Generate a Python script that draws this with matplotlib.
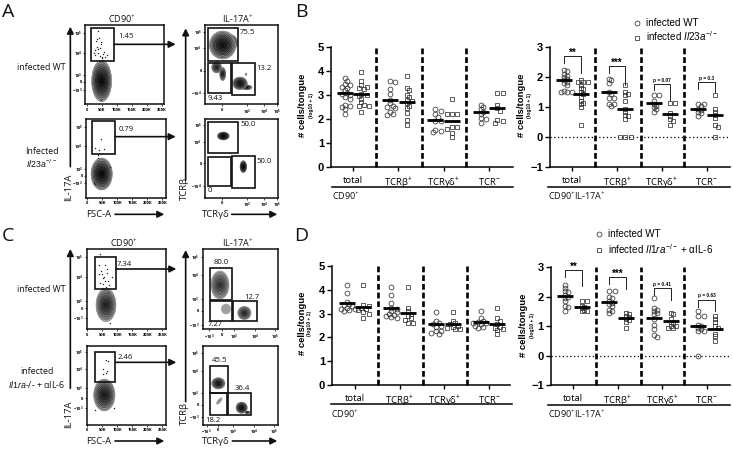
import matplotlib
matplotlib.use('Agg')
import matplotlib.pyplot as plt
from matplotlib.patches import Ellipse, Rectangle
from matplotlib.lines import Line2D

plt.rcParams['font.family'] = ['Open Sans', 'DejaVu Sans']
plt.rcParams['mathtext.fontset'] = 'custom'
plt.rcParams['mathtext.rm'] = 'Liberation Sans'
plt.rcParams['mathtext.it'] = 'Liberation Sans:italic'
plt.rcParams['mathtext.bf'] = 'Liberation Sans:bold'
plt.rcParams['mathtext.default'] = 'regular'

groups = ['total', 'TCRβ$^{+}$', 'TCRγδ$^{+}$', 'TCR$^{-}$']

# scatter data, wt / ko per group
b1_wt = [[3.7, 3.6, 3.45, 3.4, 3.35, 3.3, 3.2, 3.1, 3.05, 3.0, 2.9, 2.85, 2.6, 2.55, 2.5, 2.4, 2.2],
         [3.6, 3.55, 3.25, 3.05, 2.8, 2.65, 2.55, 2.5, 2.45, 2.3, 2.2, 2.15],
         [2.4, 2.35, 2.2, 2.1, 1.9, 1.9, 1.55, 1.5, 1.45],
         [2.6, 2.5, 2.4, 2.3, 2.2, 2.05, 2.0, 1.85]]
b1_ko = [[3.95, 3.6, 3.4, 3.35, 3.3, 3.25, 3.05, 3.0, 2.95, 2.85, 2.7, 2.6, 2.55, 2.55, 2.3],
         [3.8, 3.3, 3.2, 3.0, 2.9, 2.8, 2.75, 2.65, 2.55, 2.45, 2.25, 1.95, 1.75],
         [2.85, 2.2, 2.2, 2.2, 1.65, 1.65, 1.6, 1.4, 1.25],
         [3.1, 3.1, 2.6, 2.45, 2.35, 1.95, 1.9, 1.85]]
b1_wt_mean = [3.1, 2.8, 1.95, 2.28]
b1_ko_mean = [3.03, 2.72, 1.92, 2.45]

b2_wt = [[2.25, 2.2, 2.1, 2.05, 2.0, 1.95, 1.9, 1.85, 1.8, 1.75, 1.55, 1.5, 1.5, 1.5],
         [1.95, 1.9, 1.8, 1.5, 1.45, 1.3, 1.3, 1.1, 1.1, 1.05],
         [1.4, 1.4, 1.2, 1.1, 1.05, 1.0, 0.95, 0.85],
         [1.1, 1.1, 1.05, 0.95, 0.9, 0.85, 0.8, 0.7]]
b2_ko = [[1.9, 1.85, 1.85, 1.85, 1.75, 1.65, 1.6, 1.5, 1.45, 1.35, 1.2, 1.15, 1.1, 1.0, 0.4],
         [1.75, 1.5, 1.45, 1.4, 1.2, 0.95, 0.85, 0.75, 0.7, 0.6, 0, 0, 0],
         [1.15, 1.15, 0.8, 0.7, 0.6, 0.55, 0.4],
         [1.4, 0.95, 0.85, 0.75, 0.65, 0.4, 0.35, 0]]
b2_wt_mean = [1.9, 1.5, 1.12, 0.93]
b2_ko_mean = [1.45, 0.93, 0.78, 0.74]

d1_wt = [[4.2, 3.85, 3.5, 3.4, 3.35, 3.3, 3.25, 3.2, 3.2, 3.15, 3.1],
         [4.1, 3.8, 3.45, 3.25, 3.2, 3.1, 3.05, 3.0, 2.95, 2.9, 2.85, 2.8],
         [3.05, 2.7, 2.6, 2.55, 2.5, 2.45, 2.25, 2.25, 2.2, 2.15],
         [3.1, 2.8, 2.7, 2.65, 2.6, 2.6, 2.55, 2.5, 2.45, 2.4]]
d1_ko = [[4.2, 3.35, 3.3, 3.25, 3.2, 3.15, 3.05, 3.0, 2.8],
         [4.1, 3.25, 3.1, 3.0, 2.9, 2.8, 2.75, 2.6, 2.6],
         [3.05, 2.7, 2.6, 2.55, 2.5, 2.45, 2.4, 2.35, 2.35],
         [3.25, 2.8, 2.7, 2.55, 2.45, 2.4, 2.35, 2.3, 2.15]]
d1_wt_mean = [3.43, 3.25, 2.55, 2.65]
d1_ko_mean = [3.28, 3.03, 2.58, 2.55]

d2_wt = [[2.4, 2.3, 2.2, 2.15, 2.05, 2.0, 1.95, 1.85, 1.7, 1.65, 1.5],
         [2.2, 2.2, 2.0, 1.95, 1.85, 1.8, 1.75, 1.7, 1.55, 1.5, 1.45],
         [1.95, 1.6, 1.55, 1.5, 1.45, 1.4, 1.25, 1.05, 0.9, 0.7, 0.62],
         [1.5, 1.35, 1.35, 1.05, 1.0, 0.95, 0.9, 0.85, 0.85, 0]]
d2_ko = [[1.85, 1.85, 1.7, 1.65, 1.6, 1.55, 1.5, 1.5],
         [1.45, 1.4, 1.35, 1.3, 1.25, 1.2, 1.15, 0.95],
         [1.45, 1.4, 1.25, 1.15, 1.1, 1.0, 1.0, 0.95, 0.95],
         [1.35, 1.25, 1.15, 1.0, 0.95, 0.75, 0.65, 0.5]]
d2_wt_mean = [2.02, 1.82, 1.28, 1.02]
d2_ko_mean = [1.66, 1.27, 1.16, 0.92]

# brackets: group, top, left leg end, right leg end, text
b2_brackets = [(0, 2.7, 2.48, 2.12, '**'), (1, 2.37, 2.12, 1.73, '***'),
               (2, 1.77, 1.57, 1.23, 'p = 0.07'), (3, 1.82, 1.59, 1.5, 'p = 0.3')]
d2_brackets = [(0, 2.92, 2.67, 2.35, '**'), (1, 2.67, 2.42, 2.27, '***'),
               (2, 2.3, 2.05, 1.9, 'p = 0.41'), (3, 1.9, 1.65, 1.53, 'p = 0.63')]

# flow plots, everything below in 3x pixel units of the picture
fsc_labels = ['0', '50K', '100K', '150K', '200K', '250K']
y_exp = ['$10^5$', '$10^4$', '$10^3$', '0', '$-10^3$']
tcr_labels = ['0', '$10^3$', '$10^4$', '$10^5$']
tcr_labels_neg = ['$-10^3$', '0', '$10^3$', '$10^4$', '$10^5$']

a1_box = (256, 76, 492, 313)
a1_gates = [(272, 84, 343, 183)]
a1_blobs = [(305, 243, 30, 62, 0, 0.05)]
a1_dots_x = [295, 290, 302, 285, 300, 295, 305, 310, 285, 320, 296, 288, 312, 282, 303, 316, 293, 299, 308, 290, 305, 303]
a1_dots_y = [92, 118, 125, 150, 145, 158, 170, 180, 165, 165, 115, 122, 155, 158, 132, 172, 148, 168, 163, 140, 175, 300]
a1_xticks = [260, 305, 350, 395, 440, 485]
a1_yticks = [100, 158, 225, 245, 270]

a2_box = (258, 358, 497, 593)
a2_gates = [(275, 362, 345, 463)]
a2_blobs = [(305, 522, 32, 48, 0, 0.05)]
a2_dots_x = [302, 285, 313, 298, 293, 295, 282, 285, 330]
a2_dots_y = [417, 445, 447, 450, 465, 475, 550, 552, 500]
a2_xticks = [262, 307, 352, 397, 442, 487]
a2_yticks = [382, 438, 507, 527, 548]

a3_box = (615, 76, 833, 313)
a3_gates = [(625, 85, 715, 183), (625, 188, 693, 280), (697, 190, 764, 285)]
a3_blobs = [(692, 128, 20, 24, 0, 0.1), (668, 135, 40, 42, 0, 0.08), (650, 202, 15, 17, 0, 0.3),
            (668, 222, 9, 20, 0, 0.3), (740, 262, 16, 7, 0, 0.3), (720, 250, 22, 19, 0, 0.15), (738, 223, 3, 3, 0, 0.8)]
a3_yticks = [95, 145, 212, 280]
a3_xticks = [665, 742, 792, 832]

a4_box = (615, 356, 833, 593)
a4_gates = [(625, 365, 715, 460), (625, 470, 693, 558), (697, 468, 764, 563)]
a4_blobs = [(670, 408, 18, 12, 0, 0.05), (730, 500, 10, 18, 0, 0.1)]
a4_yticks = [375, 425, 490, 557]
a4_xticks = [665, 742, 792, 832]

c1_box = (260, 748, 497, 988)
c1_gates = [(284, 771, 347, 868)]
c1_blobs = [(318, 915, 30, 50, 0, 0.2)]
c1_dots_x = [300, 298, 315, 305, 322, 310, 300, 325, 318, 335, 303, 312, 328, 306, 320, 316, 298, 310, 325, 330]
c1_dots_y = [763, 796, 795, 822, 820, 835, 848, 842, 860, 830, 812, 830, 855, 865, 806, 842, 822, 852, 875, 970]
c1_xticks = [262, 307, 352, 397, 442, 487]
c1_yticks = [770, 830, 903, 925, 955]

c2_box = (260, 1037, 497, 1275)
c2_gates = [(284, 1056, 346, 1147)]
c2_blobs = [(313, 1185, 32, 48, 0, 0.15)]
c2_dots_x = [318, 325, 308, 318, 322, 310, 285, 342]
c2_dots_y = [1079, 1082, 1108, 1118, 1112, 1122, 1230, 1225]
c2_xticks = [262, 307, 352, 397, 442, 487]
c2_yticks = [1057, 1107, 1165, 1195, 1225]

c3_box = (608, 748, 833, 988)
c3_gates = [(631, 805, 695, 900), (631, 904, 695, 964), (699, 904, 772, 964)]
c3_blobs = [(660, 855, 27, 42, 0, 0.3), (678, 927, 14, 15, 0, 0.8), (733, 939, 20, 20, 0, 0.3)]
c3_yticks = [770, 825, 897, 933, 975]
c3_xticks = [627, 665, 702, 765, 825]

c4_box = (608, 1037, 833, 1275)
c4_gates = [(631, 1099, 685, 1178), (631, 1180, 682, 1245), (685, 1180, 752, 1245)]
c4_blobs = [(742, 1237, 8, 4, 0, 0.4), (655, 1150, 20, 17, 0, 0.2), (658, 1203, 4, 12, 40, 0.8), (725, 1223, 17, 17, 0, 0.15)]
c4_yticks = [1059, 1113, 1180, 1215, 1250]
c4_xticks = [620, 655, 700, 762, 822]

fig = plt.figure(figsize=(7.33, 4.49), dpi=100)
W, H = 733.0, 449.0


def rect3(x0, y0, x1, y1):
    return [x0 / 3 / W, 1 - y1 / 3 / H, (x1 - x0) / 3 / W, (y1 - y0) / 3 / H]


# overlay for labels and arrows
ov = fig.add_axes([0, 0, 1, 1], zorder=5)
ov.set_xlim(0, 2199)
ov.set_ylim(1347, 0)
ov.axis('off')
ov.patch.set_alpha(0)


def blob(ax, cx, cy, rx, ry, angle, darkest, rings=10):
    for i in range(rings):
        k = 1 - i / rings
        level = 0.85 - (0.85 - darkest) * ((i + 1) / rings) ** 0.55
        ax.add_patch(Ellipse((cx, cy), 2 * rx * k, 2 * ry * k, angle=angle, fc=str(level),
                             ec=str(max(level - 0.3, 0)), lw=0.3))


def flow_panel(box, gates, blobs, xticks, xlabels, yticks, ylabels, dots=None):
    ax = fig.add_axes(rect3(*box))
    ax.set_xlim(box[0], box[2])
    ax.set_ylim(box[3], box[1])
    for b in blobs:
        blob(ax, *b)
    if dots:
        ax.plot(dots[0], dots[1], ls='none', marker='s', ms=0.9, color='#222222', mew=0)
    for g in gates:
        ax.add_patch(Rectangle((g[0], g[1]), g[2] - g[0], g[3] - g[1], fc='none', ec='#111111', lw=1.2, zorder=4))
    ax.set_xticks(xticks)
    ax.set_xticklabels(xlabels, fontsize=3, fontweight='bold')
    ax.set_yticks(yticks)
    ax.set_yticklabels(ylabels, fontsize=3, fontweight='bold')
    ax.tick_params(length=1.5, width=0.5, pad=0.8)
    for s in ax.spines.values():
        s.set_linewidth(1.1)
        s.set_color('#111111')
    return ax


flow_panel(a1_box, a1_gates, a1_blobs, a1_xticks, fsc_labels, a1_yticks, y_exp, (a1_dots_x, a1_dots_y))
flow_panel(a2_box, a2_gates, a2_blobs, a2_xticks, fsc_labels, a2_yticks, y_exp, (a2_dots_x, a2_dots_y))
flow_panel(a3_box, a3_gates, a3_blobs, a3_xticks, tcr_labels, a3_yticks, ['$10^5$', '$10^4$', '0', '$-10^4$'])
flow_panel(a4_box, a4_gates, a4_blobs, a4_xticks, tcr_labels, a4_yticks, ['$10^5$', '$10^4$', '0', '$-10^4$'])
flow_panel(c1_box, c1_gates, c1_blobs, c1_xticks, fsc_labels, c1_yticks, y_exp, (c1_dots_x, c1_dots_y))
flow_panel(c2_box, c2_gates, c2_blobs, c2_xticks, fsc_labels, c2_yticks, y_exp, (c2_dots_x, c2_dots_y))
flow_panel(c3_box, c3_gates, c3_blobs, c3_xticks, tcr_labels_neg, c3_yticks, y_exp)
flow_panel(c4_box, c4_gates, c4_blobs, c4_xticks, tcr_labels_neg, c4_yticks, y_exp)


def swarm(vals, scale_px, d=2.9):
    # keep circles apart like prism does, returns offsets in px
    placed = []
    for v in sorted(vals, reverse=True):
        y = v * scale_px
        for n in range(20):
            off = ((n + 1) // 2) * d * (1 if n % 2 else -1) * 0.9
            if all((off - o) ** 2 + (y - p) ** 2 >= d * d for o, p in placed):
                break
        placed.append((off, y))
    return sorted(vals, reverse=True), [p[0] for p in placed]


def scatter_panel(left, top, right, bottom, tick0, tick3, ylim, wt, ko, wt_mean, ko_mean, brackets=None):
    ax = fig.add_axes([left / W, 1 - bottom / H, (right - left) / W, (bottom - top) / H])
    s = (tick3 - tick0) / 3.0
    ax.set_xlim((left - tick0) / s, (right - tick0) / s)
    ax.set_ylim(*ylim)
    y_scale = (bottom - top) / (ylim[1] - ylim[0])
    off = 8.3 / s
    for i in range(4):
        for vals, m, shift, marker in ((wt[i], wt_mean[i], -off, 'o'), (ko[i], ko_mean[i], off, 's')):
            yy, dx = swarm(vals, y_scale)
            xx = [i + shift + d / s for d in dx]
            ax.plot(xx, yy, ls='none', marker=marker, ms=3.5, mfc='none', mec='#333333', mew=0.55, clip_on=False, zorder=2)
            ax.plot([i + shift - 8 / s, i + shift + 8 / s], [m, m], color='black', lw=2, solid_capstyle='butt', zorder=3)
    for x in [0.51, 1.53, 2.5]:
        ax.plot([x, x], list(ylim), color='black', lw=1.9, ls=(0, (2.2, 1.1)), zorder=1, clip_on=False)
    if ylim[0] < 0:
        ax.axhline(0, color='black', lw=0.9, ls=(0, (1, 2)), zorder=1)
    if brackets:
        for g, t, l, r, label in brackets:
            ax.plot([g - off, g - off, g + off, g + off], [l, t, t, r], color='#222222', lw=0.7, zorder=2)
            if label.startswith('p'):
                ax.text(g, t + 0.04, label, ha='center', va='bottom', fontsize=3.4, fontweight='bold', family='Liberation Sans')
            else:
                ax.text(g, t - 0.07, label, ha='center', va='bottom', fontsize=7, fontweight='bold', family='Liberation Sans')
    for sp in ['top', 'right']:
        ax.spines[sp].set_visible(False)
    for sp in ['left', 'bottom']:
        ax.spines[sp].set_linewidth(1.1)
    ax.set_xticks(range(4))
    ax.set_xticklabels(groups, fontsize=6.8)
    ax.tick_params(axis='x', length=3, width=1, pad=3.5)
    ax.set_yticks(range(ylim[0], ylim[1] + 1))
    for t in ax.get_yticklabels():
        t.set_fontweight('bold')
        t.set_fontfamily('Liberation Sans')
        t.set_fontsize(8)
    ax.tick_params(axis='y', length=3.5, width=1, pad=1.5)
    ax.patch.set_alpha(0)
    return ax


scatter_panel(331, 47, 512.7, 167, 353, 489, (0, 5), b1_wt, b1_ko, b1_wt_mean, b1_ko_mean)
scatter_panel(550, 47, 730, 167, 572.3, 706.7, (-1, 3), b2_wt, b2_ko, b2_wt_mean, b2_ko_mean, b2_brackets)
scatter_panel(332, 266, 510, 385, 355, 489, (0, 5), d1_wt, d1_ko, d1_wt_mean, d1_ko_mean)
scatter_panel(550.7, 267.3, 730, 385, 573.3, 706.7, (-1, 3), d2_wt, d2_ko, d2_wt_mean, d2_ko_mean, d2_brackets)


def arrow(x0, y0, x1, y1):
    ov.annotate('', xy=(x1, y1), xytext=(x0, y0),
                arrowprops=dict(arrowstyle='-|>,head_width=0.18,head_length=0.36', lw=1.2, color='#111111', shrinkA=0, shrinkB=0, mutation_scale=11))


def label(x, y, s, size=6.8, **kw):
    kw.setdefault('ha', 'center')
    kw.setdefault('va', 'center')
    ov.text(x, y, s, fontsize=size, color='#111111', **kw)


# panel letters
for x, y, s in [(24, 36, 'A'), (905, 36, 'B'), (24, 708, 'C'), (905, 708, 'D')]:
    label(x, y, s, size=14)

# titles on flow columns and gate numbers
for x, y, s in [(365, 57, 'CD90$^{+}$'), (712, 58, 'IL-17A$^{+}$'), (372, 730, 'CD90$^{+}$'), (712, 730, 'IL-17A$^{+}$')]:
    label(x, y, s, size=6.5)
for x, y, s in [(378, 108, '1.45'), (380, 388, '0.79'), (743, 98, '75.5'), (793, 207, '13.2'), (645, 295, '9.43'),
                (743, 375, '50.0'), (793, 485, '50.0'), (628, 573, '0'), (372, 793, '7.34'), (375, 1072, '2.46'),
                (664, 788, '80.0'), (757, 893, '12.7'), (645, 975, '7.27'), (660, 1082, '45.5'), (727, 1165, '36.4'), (638, 1260, '18.2')]:
    label(x, y, s, size=5.6)
for x, y, s in [(125, 203, 'infected WT'), (125, 455, 'Infected'), (125, 490, r'$\mathit{Il23a}^{-/-}$'),
                (125, 870, 'infected WT'), (110, 1116, 'infected'), (110, 1153, r'$\mathit{Il1ra}$-/- + αIL-6')]:
    label(x, y, s, size=6.3)

# gate arrows
for x0, y0, x1 in [(343, 133, 527), (345, 410, 527), (347, 807, 529), (346, 1087, 529)]:
    arrow(x0, y0, x1, y0)

# flow axis labels
for x, y0, y1, ty, s in [(211, 500, 80, 563, 'IL-17A'), (557, 540, 85, 565, 'TCRβ'),
                         (211, 1165, 747, 1242, 'IL-17A'), (557, 1205, 750, 1240, 'TCRβ')]:
    arrow(x, y0, x, y1)
    label(x - 4, ty, s, size=6.8, rotation=90)
for x, y, x0, x1, s in [(295, 643, 345, 493, 'FSC-A'), (647, 643, 695, 832, 'TCRγδ'),
                        (295, 1323, 345, 493, 'FSC-A'), (647, 1323, 697, 832, 'TCRγδ')]:
    label(x, y, s, size=6.8)
    arrow(x0, y, x1, y)

# scatter panel y labels
for x, xs, y in [(908, 933, 315), (1566, 1590, 315), (908, 930, 970), (1570, 1597, 975)]:
    ov.text(x, y, '# cells/tongue', rotation=90, ha='center', va='center', fontsize=6.8, fontweight='bold', family='Liberation Sans')
    ov.text(xs, y, '(log10 + 1)', rotation=90, ha='center', va='center', fontsize=3.6, fontweight='bold', family='Liberation Sans')

# group lines below the scatter panels
for x0, x1, y, ty, s in [(995, 1538, 561, 590, 'CD90$^{+}$'), (1645, 2190, 561, 590, 'CD90$^{+}$IL-17A$^{+}$'),
                         (992, 1535, 1212, 1242, 'CD90$^{+}$'), (1645, 2190, 1215, 1243, 'CD90$^{+}$IL-17A$^{+}$')]:
    ov.plot([x0, x1], [y, y], color='black', lw=1.1)
    label(x0, ty, s, size=6.5, ha='left')


def legend(x, y, labels, spacing):
    hs = [Line2D([], [], ls='none', marker=m, ms=3.5, mfc='none', mec='#333333', mew=0.55) for m in 'os']
    fig.legend(hs, labels, loc='upper left', bbox_to_anchor=(x / W, 1 - y / H), frameon=False,
               prop={'family': 'Liberation Sans', 'size': 7.1}, handlelength=1.1, handletextpad=0.3,
               labelspacing=spacing, borderpad=0, borderaxespad=0)


legend(632, 18, ['infected WT', r'infected $\mathit{Il23a}^{-/-}$'], 0.15)
legend(594, 229, ['infected WT', r'infected $\mathit{Il1ra}^{-/-}$ + αIL-6'], 0.3)

fig.savefig('out.png', dpi=100)
